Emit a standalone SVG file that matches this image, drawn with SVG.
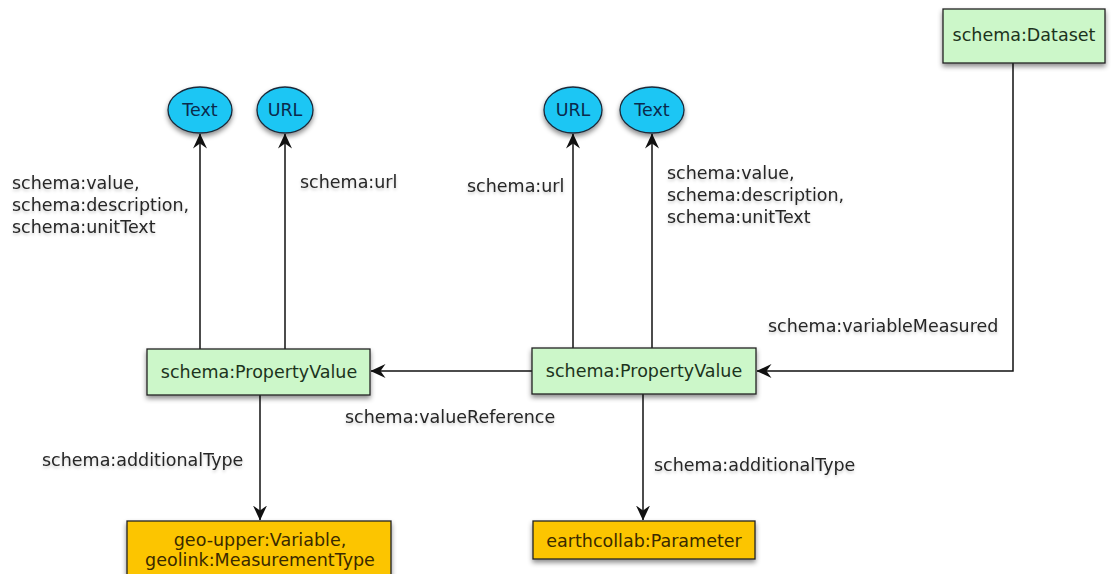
<svg xmlns="http://www.w3.org/2000/svg" width="1111" height="574" viewBox="0 0 1111 574">
<style>
.lbl{font-family:"DejaVu Sans",sans-serif;font-size:17.5px;fill:#262626;filter:url(#tsh)}
.nt{font-family:"DejaVu Sans",sans-serif;font-size:17.5px;text-anchor:middle;dominant-baseline:central}
.box{stroke:#222;stroke-width:1.3;filter:url(#sh)}
.g{fill:#ccf7c9}
.o{fill:#fcc500}
.el{fill:#1ec6f4;stroke:#1a2a3a;stroke-width:1.3;filter:url(#sh)}
.gt{fill:#1c331c}
.ot{fill:#3a2a00}
.et{fill:#0b2a4c}
.c{fill:none;stroke:#111;stroke-width:1.5}
</style>
<defs>
<filter id="sh" x="-20%" y="-20%" width="140%" height="160%">
<feDropShadow dx="0" dy="3" stdDeviation="2.5" flood-color="#000" flood-opacity="0.45"/>
</filter>
<filter id="tsh" x="-10%" y="-30%" width="120%" height="180%">
<feDropShadow dx="0" dy="2" stdDeviation="1.5" flood-color="#000" flood-opacity="0.2"/>
</filter>
<marker id="ar" viewBox="0 0 15 14" refX="14.5" refY="7" markerWidth="15" markerHeight="14" markerUnits="userSpaceOnUse" orient="auto">
<path d="M0,0 L15,7 L0,14 L5,7 z" fill="#111"/>
</marker>
</defs>
<rect width="1111" height="574" fill="#fff"/>
<g id="connectors">
<path class="c" d="M200,349 V134" marker-end="url(#ar)"/>
<path class="c" d="M285,349 V134" marker-end="url(#ar)"/>
<path class="c" d="M573,348 V134" marker-end="url(#ar)"/>
<path class="c" d="M652,348 V134" marker-end="url(#ar)"/>
<path class="c" d="M532,371 H371" marker-end="url(#ar)"/>
<path class="c" d="M1013,63 V371 H757" marker-end="url(#ar)"/>
<path class="c" d="M260,395 V520" marker-end="url(#ar)"/>
<path class="c" d="M643,394 V520" marker-end="url(#ar)"/>
<text class="lbl" x="12" y="189">schema:value,</text>
<text class="lbl" x="12" y="211">schema:description,</text>
<text class="lbl" x="12" y="233">schema:unitText</text>
<text class="lbl" x="300" y="188">schema:url</text>
<text class="lbl" x="467" y="192">schema:url</text>
<text class="lbl" x="667" y="179">schema:value,</text>
<text class="lbl" x="667" y="201">schema:description,</text>
<text class="lbl" x="667" y="223">schema:unitText</text>
<text class="lbl" x="768" y="332">schema:variableMeasured</text>
<text class="lbl" x="345" y="423">schema:valueReference</text>
<text class="lbl" x="42" y="466">schema:additionalType</text>
<text class="lbl" x="654" y="471">schema:additionalType</text>
</g>
<g id="dataset">
<rect class="box g" x="943" y="9" width="162" height="54"/>
<text class="nt gt" x="1024" y="35">schema:Dataset</text>
</g>
<g id="text1">
<ellipse class="el" cx="200" cy="110" rx="32" ry="23"/>
<text class="nt et" x="200" y="110">Text</text>
</g>
<g id="url1">
<ellipse class="el" cx="285" cy="110" rx="28" ry="23"/>
<text class="nt et" x="285" y="110">URL</text>
</g>
<g id="url2">
<ellipse class="el" cx="573" cy="110" rx="29" ry="23"/>
<text class="nt et" x="573" y="110">URL</text>
</g>
<g id="text2">
<ellipse class="el" cx="652" cy="110" rx="32" ry="23"/>
<text class="nt et" x="652" y="110">Text</text>
</g>
<g id="pv1">
<rect class="box g" x="147" y="349" width="223" height="46"/>
<text class="nt gt" x="259" y="372">schema:PropertyValue</text>
</g>
<g id="pv2">
<rect class="box g" x="532" y="348" width="224" height="46"/>
<text class="nt gt" x="644" y="371">schema:PropertyValue</text>
</g>
<g id="variable">
<rect class="box o" x="127" y="521" width="264" height="60"/>
<text class="nt ot" x="260" y="540">geo-upper:Variable,</text>
<text class="nt ot" x="260" y="560">geolink:MeasurementType</text>
</g>
<g id="parameter">
<rect class="box o" x="533" y="521" width="222" height="38"/>
<text class="nt ot" x="644" y="541">earthcollab:Parameter</text>
</g>
</svg>
